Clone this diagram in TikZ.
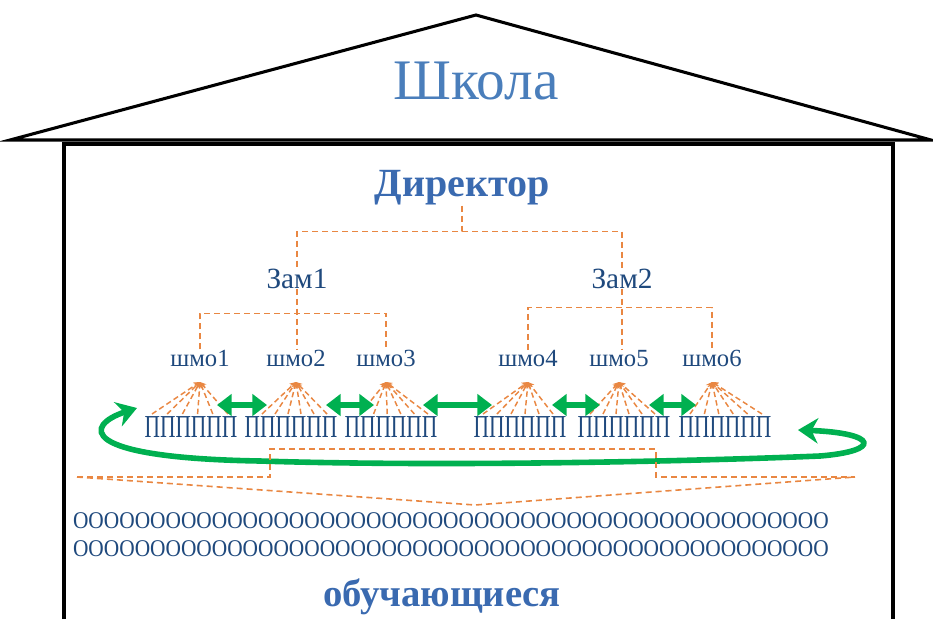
\documentclass[tikz,border=0pt]{standalone}
\usepackage{fontspec}
\setmainfont{Liberation Serif}
\newfontfamily\narrowserif[FakeStretch=0.67]{Liberation Serif}
\newfontfamily\rowserif[FakeStretch=0.89]{Liberation Serif}
\usepackage{tikz}
\usetikzlibrary{positioning, arrows.meta, calc}
\definecolor{roofblue}{RGB}{74,126,187}
\definecolor{dirblue}{RGB}{58,106,176}
\definecolor{navy}{RGB}{31,73,125}
\definecolor{dashorange}{RGB}{233,135,66}
\definecolor{linkgreen}{RGB}{0,176,80}

\begin{document}
\begin{tikzpicture}[x=0.75pt, y=-0.75pt, >=Stealth,
    wall/.style={line width=2.3pt, line join=miter},
    org/.style={dashorange, line width=1.2pt, dash pattern=on 4.5pt off 3pt},
    fan/.style={dashorange, line width=1.1pt, dash pattern=on 4pt off 2.5pt, -{Stealth[length=4.5pt,width=5pt]}},
    swap/.style={linkgreen, line width=5pt, {Triangle[length=11pt,width=16pt]}-{Triangle[length=11pt,width=16pt]}},
    ring/.style={linkgreen, line width=4.2pt, {Stealth[length=15pt,width=19pt]}-{Stealth[length=15pt,width=19pt]}},
    lbl/.style={inner sep=0pt, text=navy}]
      \useasboundingbox (0,0) rectangle (933,619);
      \draw[wall] (10,140) -- (476,15) -- (931,140) -- cycle;
      \draw[wall] (64,619) -- (64,144) -- (893,144) -- (893,619);

      \node[inner sep=0pt, text=roofblue, font=\fontsize{43}{43}\selectfont] (school) at (476,81) {Школа};
      \node[inner sep=0pt, text=dirblue, font=\bfseries\fontsize{30}{30}\selectfont] (dir) at (462,188) {Директор};
      \node[lbl, anchor=base, font=\fontsize{22}{22}\selectfont] (z1) at (297,288) {Зам1};
      \node[lbl, anchor=base, font=\fontsize{22}{22}\selectfont] (z2) at (622,288) {Зам2};
      \foreach \i/\x in {1/200, 2/296, 3/386, 4/528, 5/619, 6/712}
        \node[lbl, anchor=base, font=\fontsize{18.5}{18.5}\selectfont] (s\i) at (\x,366) {шмо\i};
      \foreach \i/\x in {1/191, 2/291, 3/391, 4/520, 5/624, 6/725}
        \node[lbl, inner ysep=2pt, font=\narrowserif\fontsize{24}{24}\selectfont] (g\i) at (\x,427) {ПППППП};
      \node[lbl, font=\rowserif\fontsize{18}{18}\selectfont] (o1) at (451,521) {ООООООООООООООООООООООООООООООООООООООООООООООООО};
      \node[lbl, font=\rowserif\fontsize{18}{18}\selectfont] (o2) at (451,549) {ООООООООООООООООООООООООООООООООООООООООООООООООО};
      \node[inner sep=0pt, text=dirblue, font=\bfseries\fontsize{29}{29}\selectfont] (pupils) at (442,597) {обучающиеся};

      \draw[org] (dir.south) -- ++(0,26) coordinate (d0) -| (z1.north);
      \draw[org] (d0) -| (z2.north);
      \draw[org] (z1.south) -- (z1.south |- s2.north);
      \draw[org] (z2.south) -- (z2.south |- s5.north);
      \draw[org] (s1.north) -- ++(0,-36) -| (s3.north);
      \draw[org] (s4.north) -- ++(0,-42) -| (s6.north);

      \foreach \i/\l/\r in {1/152/228, 2/262/327, 3/360/428, 4/483/553, 5/590/655, 6/690/762} {
        \coordinate (a\i) at ($(s\i.base)+(0,16)$);
        \foreach \k in {0,...,5}
          \draw[fan] ({\l+\k*(\r-\l)/5},414) -- (a\i);
      }

      \foreach \i/\xa/\xb in {1/217/267, 2/326/374, 3/423/492, 4/552/600, 5/649/696} {
        \coordinate (p\i) at (\xa,405);
        \coordinate (q\i) at (\xb,405);
        \draw[swap] (p\i) -- (q\i);
      }

      \coordinate (rl) at (137,408);
      \coordinate (rr) at (798,430);
      \draw[ring] (rl) .. controls (85,425) and (75,458) .. (260,461)
                       .. controls (450,467) and (700,461) .. (820,456)
                       .. controls (882,451) and (878,433) .. (rr);

      \coordinate (fl) at (77,477);
      \coordinate (fr) at (855,477);
      \coordinate (fm) at (475,505);
      \draw[org] (fl) -- (270,477) -- (270,449) -- (656,449) -- (656,477) -- (fr);
      \draw[org] (fl) -- (fm) -- (fr);
\end{tikzpicture}
\end{document}
